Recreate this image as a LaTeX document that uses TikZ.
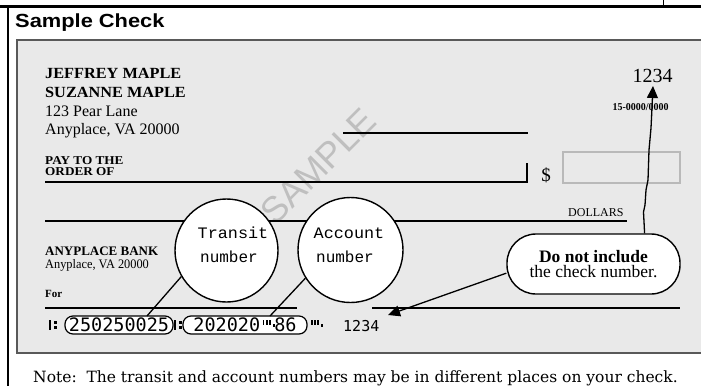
\documentclass[tikz,border=0pt]{standalone}
\usepackage{fontspec}
\usepackage{graphicx}
\setmainfont{Liberation Serif}
\newfontfamily\titlefont{Liberation Sans}
\newfontfamily\circfont{Liberation Mono}
\newfontfamily\micrfont{DejaVu Sans Mono}
\newfontfamily\wmfont{Liberation Sans}
\newfontfamily\notefont{DejaVu Serif}
\usetikzlibrary{arrows.meta}
\newcommand\fsz[1]{\fontsize{#1}{#1}\selectfont}
\tikzset{
  chkline/.style={line width=1.3pt},
  bubble/.style={circle, draw, line width=1.4pt, fill=white, inner sep=0pt},
  oval/.style={draw, line width=1.2pt, fill=white, rounded corners=8pt, minimum height=18pt, inner sep=0pt, font=\micrfont\fsz{18.5}},
  lbl/.style={anchor=base west, inner sep=0pt},
  clbl/.style={anchor=base, inner sep=0pt},
  pointer/.style={line width=1.3pt, -{Triangle[length=12pt,width=11pt]}},
  transitsym/.pic={
    \fill (0,0) rectangle (1.6,-10);
    \fill (4.5,-1) rectangle (8,-4);
    \fill (4.5,-6) rectangle (8,-9.5);
  },
  onussym/.pic={
    \fill (0,-10) rectangle (1.8,-5.5);
    \fill (3.2,-10) rectangle (5,-5.5);
    \fill (6.4,-10) rectangle (8.2,-5.5);
    \fill (10,-6) rectangle (12,-3);
  },
}
\begin{document}
\begin{tikzpicture}[x=1pt,y=-1pt]
\useasboundingbox (0,0) rectangle (701,386);
% frame
\draw[line width=2.5pt] (0,6.5) -- (701,6.5);
\draw[line width=2.5pt] (8,5.5) -- (8,386);
\draw[line width=1.5pt] (663.5,0) -- (663.5,6.5);
% title
\node[lbl] (title) at (15,27) {\titlefont\bfseries\fsz{19}\scalebox{1.15}[1]{Sample Check}};
% check body
\fill[gray!17] (17,40) rectangle (705,353);
\draw[gray!70!black, line width=1.6pt] (705,40) -- (17,40) -- (17,353) -- (705,353);
% watermark
\node[inner sep=0pt, rotate=45, text=gray!50] (wm) at (318,166) {\wmfont\fsz{36}SAMPLE};
% payer
\node[lbl] (n1) at (45,78) {\bfseries\fsz{15.5}\scalebox{1.05}[1]{JEFFREY MAPLE}};
\node[lbl] (n2) at (45,97) {\bfseries\fsz{15.5}\scalebox{1.05}[1]{SUZANNE MAPLE}};
\node[lbl] (n3) at (45,116) {\fsz{16}123 Pear Lane};
\node[lbl] (n4) at (45,134) {\fsz{16}Anyplace, VA 20000};
\node[lbl] (pay1) at (45,164) {\bfseries\fsz{12}\scalebox{1.1}[1]{PAY TO THE}};
\node[lbl] (pay2) at (45,175) {\bfseries\fsz{12}\scalebox{1.1}[1]{ORDER OF}};
% check number
\node[clbl] (chknum) at (652.5,82) {\fsz{20}1234};
\node[clbl] (fract) at (640.5,110) {\bfseries\fsz{10.5}\scalebox{0.95}[1]{15-0000/0000}};
% lines
\draw[chkline] (343,133) coordinate (d1) -- (528,133) coordinate (d2);
\draw[chkline] (45,182) coordinate (p1) -- (527,182) coordinate (p2) -- (527,163) coordinate (p3);
\node[clbl] (dollar) at (546,181) {\fsz{19}\$};
\draw[gray!55, line width=2pt] (563,152) rectangle (680,183);
\coordinate (amt) at (621.5,167.5);
\draw[chkline] (45,221) coordinate (l1) -- (627,221) coordinate (l2);
\node[lbl] (dollars) at (568,216) {\fsz{12}DOLLARS};
% bank
\node[lbl] (bank1) at (45,255) {\bfseries\fsz{13}ANYPLACE BANK};
\node[lbl] (bank2) at (45,268) {\fsz{13}\scalebox{0.95}[1]{Anyplace, VA 20000}};
\node[lbl] (for) at (45,297) {\bfseries\fsz{11}For};
\draw[chkline] (45,308) coordinate (f1) -- (297,308) coordinate (f2);
\draw[chkline] (372,308) coordinate (s1) -- (680,308) coordinate (s2);
% MICR line
\pic (m0) at (49,330) {transitsym};
\node[oval, minimum width=108pt] (ov1) at (119,325) {250250025};
\pic (m1) at (174,330) {transitsym};
\node[oval, minimum width=124pt] (ov2) at (245,325) {202020\hspace{14pt}86};
\pic (m2) at (262.5,330) {onussym};
\pic (m3) at (311,330) {onussym};
\node[lbl] (m4) at (343,331) {\micrfont\fsz{15}1234};
% bubbles
\node[bubble, minimum size=103pt] (transit) at (226.5,250.5) {};
\node[bubble, minimum size=105pt] (account) at (350.5,250) {};
\node[clbl] (tr1) at (233,238) {\circfont\fsz{16}\scalebox{1.05}[1]{Transit}};
\node[clbl] (tr2) at (229,262) {\circfont\fsz{16}number};
\node[clbl] (ac1) at (349,238) {\circfont\fsz{16}\scalebox{1.05}[1]{Account}};
\node[clbl] (ac2) at (345,262) {\circfont\fsz{16}number};
\coordinate (t1) at (147,316);
\coordinate (a1) at (270,316);
\draw[line width=1.3pt] (transit.210) -- (t1);
\draw[line width=1.3pt] (account.212) -- (a1);
% callout
\node[draw, line width=1.4pt, fill=white, rounded corners=29pt, minimum width=173pt, minimum height=60pt, align=center, inner sep=0pt] (callout) at (593.5,264)
  {\fsz{17.5}\bfseries Do not include\\[2pt]\fsz{17.5}the check number.};
\coordinate (tip1) at (653,86);
\coordinate (tip2) at (388,315);
\draw[pointer] (callout.31) -- (643.5,212) -- (645,205) -- (646,190) -- (648,180) -- (649,150) -- (651,128) -- (651.5,118) -- (tip1);
\draw[pointer] (callout.186) -- (tip2);
% note
\node[lbl] (note) at (33,382) {\notefont\fsz{15.5}Note:\ \ The transit and account numbers may be in different places on your check.};
\end{tikzpicture}
\end{document}
